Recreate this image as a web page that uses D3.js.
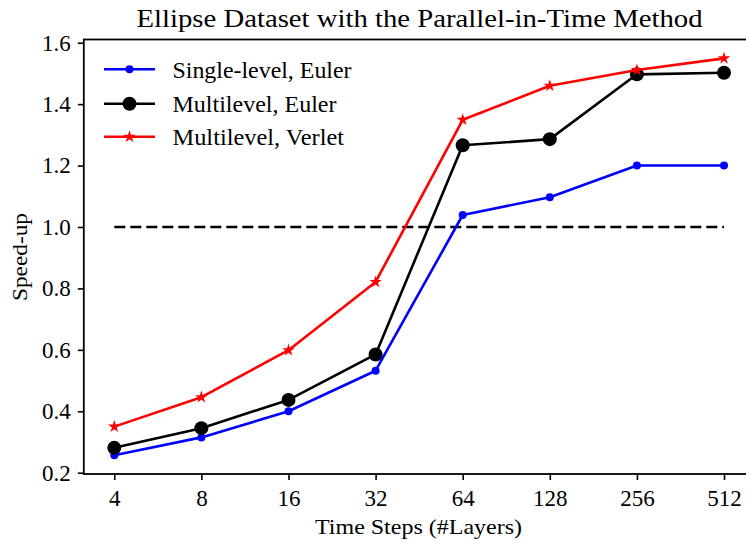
<!DOCTYPE html>
<html><head><meta charset="utf-8">
<script src="https://cdn.jsdelivr.net/npm/d3@7"></script>
<style>body{margin:0;background:#fff}svg{display:block}text{font-family:"Liberation Serif","Times New Roman",serif;fill:#000}</style>
</head><body>
<svg id="c" width="746" height="545"></svg>
<script>
const categories = ["4","8","16","32","64","128","256","512"];
const singleEuler = [0.257,0.315,0.400,0.532,1.039,1.097,1.200,1.200];
const multiEuler  = [0.281,0.345,0.437,0.585,1.266,1.286,1.497,1.502];
const multiVerlet = [0.350,0.446,0.599,0.821,1.349,1.460,1.511,1.549];
const yTicks = [0.2,0.4,0.6,0.8,1.0,1.2,1.4,1.6];
const baseline = 1.0;
const seriesNames = ["Single-level, Euler","Multilevel, Euler","Multilevel, Verlet"];

const svg = d3.select("#c");
const L=83.8, R=754.5, T=39.5, B=474;
const x = d3.scaleLinear().domain([-0.35, categories.length-1+0.35]).range([L,R]);
const y = d3.scaleLinear().domain([0.1958,1.6104]).range([B,T]);

const series = [
  {name:seriesNames[0], values:singleEuler, color:"#0000ff", marker:"dot", len:179},
  {name:seriesNames[1], values:multiEuler, color:"#000000", marker:"circle", len:164},
  {name:seriesNames[2], values:multiVerlet, color:"#ff0000", marker:"star", len:171.5}
];

// baseline dashed
svg.append("line").attr("x1",x(0)).attr("x2",x(categories.length-1))
  .attr("y1",y(baseline)).attr("y2",y(baseline))
  .attr("stroke","#000").attr("stroke-width",2.6).attr("stroke-dasharray","11,5");

const line = d3.line().x((d,i)=>x(i)).y(d=>y(d));
const star = d3.symbol().type(d3.symbolStar).size(48);
function drawMarker(g, type, color, cx, cy){
  if(type==="dot") g.append("circle").attr("cx",cx).attr("cy",cy).attr("r",4).attr("fill",color);
  else if(type==="circle") g.append("circle").attr("cx",cx).attr("cy",cy).attr("r",7).attr("fill",color);
  else g.append("path").attr("d",star()).attr("transform",`translate(${cx},${cy})`).attr("fill",color);
}
series.forEach(s=>{
  svg.append("path").attr("d",line(s.values)).attr("fill","none")
    .attr("stroke",s.color).attr("stroke-width",2.6).attr("stroke-linejoin","round");
  const g = svg.append("g");
  s.values.forEach((v,i)=>drawMarker(g,s.marker,s.color,x(i),y(v)));
});

// axes
const ax = svg.append("g").attr("transform",`translate(0,${B})`)
  .call(d3.axisBottom(x).tickValues(d3.range(categories.length)).tickFormat(i=>categories[i]).tickSize(6).tickPadding(6));
const ay = svg.append("g").attr("transform",`translate(${L},0)`)
  .call(d3.axisLeft(y).tickValues(yTicks).tickFormat(d3.format(".1f")).tickSize(6).tickPadding(7));
[ax,ay].forEach(a=>{
  a.select(".domain").remove();
  a.selectAll(".tick line").attr("stroke","#000").attr("stroke-width",1.6);
  a.selectAll(".tick text").style("font-size","23px").attr("fill","#000");
});
ax.selectAll(".tick text").attr("y",31.5).attr("dy",0);
// spines
svg.append("rect").attr("x",L).attr("y",T).attr("width",R-L).attr("height",B-T)
  .attr("fill","none").attr("stroke","#000").attr("stroke-width",1.8);

// title & labels
svg.append("text").attr("x",419.5).attr("y",26.5).attr("text-anchor","middle")
  .attr("textLength",566).attr("lengthAdjust","spacingAndGlyphs")
  .style("font-size","26px").text("Ellipse Dataset with the Parallel-in-Time Method");
svg.append("text").attr("x",418.5).attr("y",534).attr("text-anchor","middle")
  .attr("textLength",207).attr("lengthAdjust","spacingAndGlyphs")
  .style("font-size","21.5px").text("Time Steps (#Layers)");
svg.append("text").attr("transform",`translate(26.7,257) rotate(-90)`).attr("text-anchor","middle")
  .attr("textLength",88).attr("lengthAdjust","spacingAndGlyphs")
  .style("font-size","21.5px").text("Speed-up");

// legend
const legY=[69.3,103.7,136.7];
series.forEach((s,i)=>{
  const g=svg.append("g");
  g.append("line").attr("x1",104).attr("x2",155).attr("y1",legY[i]).attr("y2",legY[i])
    .attr("stroke",s.color).attr("stroke-width",2.6);
  drawMarker(g,s.marker,s.color,129.5,legY[i]);
  g.append("text").attr("x",172.5).attr("y",legY[i]+8.3)
    .attr("textLength",s.len).attr("lengthAdjust","spacingAndGlyphs")
    .style("font-size","22.5px").text(s.name);
});
</script>
</body></html>
